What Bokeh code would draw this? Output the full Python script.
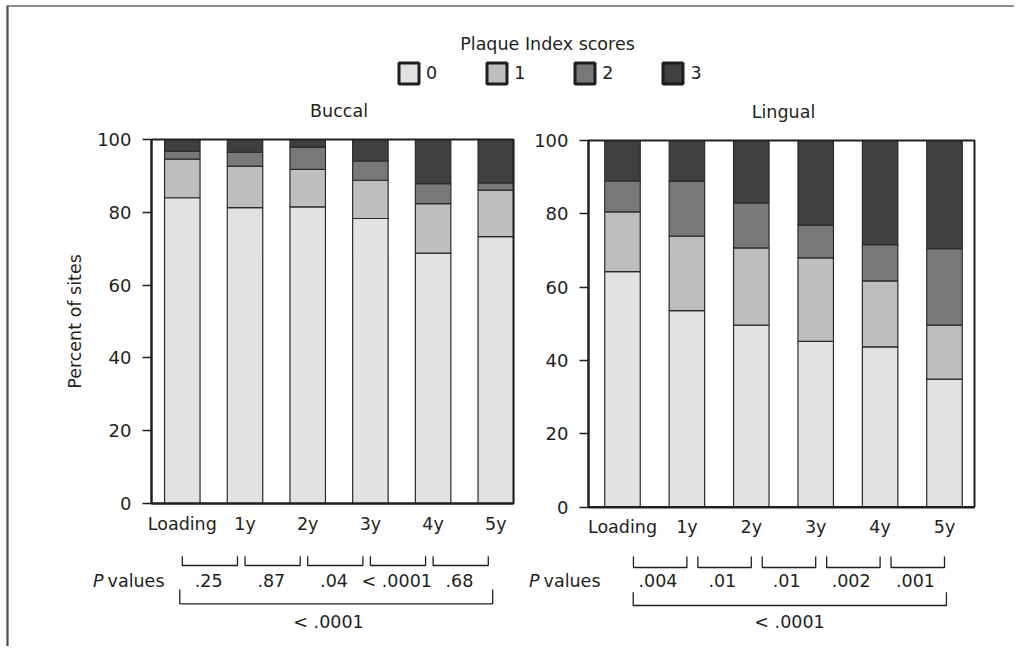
from bokeh.plotting import figure
from bokeh.models import (Range1d, FixedTicker, ColumnDataSource, Legend, LegendItem,
                          LinearAxis)
from bokeh.embed import file_html
from bokeh.resources import INLINE
from bokeh.core.properties import value

# ---------------- data ----------------
periods = ["Loading", "1y", "2y", "3y", "4y", "5y"]
scores = ["0", "1", "2", "3"]

buccal_0 = [84.0, 81.3, 81.5, 78.3, 68.8, 73.3]
buccal_1 = [10.6, 11.4, 10.3, 10.5, 13.6, 12.8]
buccal_2 = [2.2, 3.8, 6.1, 5.3, 5.5, 2.0]
buccal_3 = [3.2, 3.5, 2.1, 5.9, 12.1, 11.9]

lingual_0 = [64.2, 53.6, 49.6, 45.2, 43.7, 34.9]
lingual_1 = [16.3, 20.3, 21.1, 22.8, 18.0, 14.7]
lingual_2 = [8.5, 15.0, 12.3, 8.9, 9.9, 20.9]
lingual_3 = [11.0, 11.1, 17.0, 23.1, 28.4, 29.5]

buccal_p_pairs = [".25", ".87", ".04", "< .0001", ".68"]
buccal_p_overall = "< .0001"
lingual_p_pairs = [".004", ".01", ".01", ".002", ".001"]
lingual_p_overall = "< .0001"

y_ticks = [0, 20, 40, 60, 80, 100]

# ---------------- style / layout ----------------
FONT = "DejaVu Sans"
FS = "17.5px"
TXT = "#231f20"
COLORS = ["#e1e2e4", "#bdbec0", "#77787a", "#3f3f3f"]
EDGE = "#2b2b2b"

OX, OY = 0, 0          # page origin of the canvas
W, H = 1014, 646

# page-pixel anchors of each panel (bar-0 centre, px per category, y=0 / y=100 rows, frame sides)
LP = dict(c0=181.8, dx=62.7, y0=503.0, y100=139.0, left=151.0, right=513.0)
RP = dict(c0=622.0, dx=64.4, y0=506.5, y100=140.0, left=588.0, right=974.0)


def fx(P, px):
    return (px - P["c0"]) / P["dx"]


def fy(P, py):
    return (P["y0"] - py) * 100.0 / (P["y0"] - P["y100"])


p = figure(width=W, height=H,
           x_range=Range1d(fx(LP, OX), fx(LP, OX + W)),
           y_range=Range1d(fy(LP, OY + H), fy(LP, OY)),
           output_backend="svg", toolbar_location=None,
           x_axis_location=None, y_axis_location=None,
           min_border_left=0, min_border_right=0, min_border_top=0, min_border_bottom=0)
p.extra_x_ranges = {"r": Range1d(fx(RP, OX), fx(RP, OX + W))}
p.extra_y_ranges = {"r": Range1d(fy(RP, OY + H), fy(RP, OY))}
p.grid.visible = False
p.outline_line_color = None
p.background_fill_color = "white"
p.border_fill_color = "white"


def text(xs, ys, texts, kw, align="center", italic=False, size=FS):
    p.text(x=xs, y=ys, text=texts, text_align=align, text_baseline="middle",
           text_font=value(FONT), text_font_size=size, text_color=TXT,
           text_font_style="italic" if italic else "normal", **kw)


def panel(P, stacks, pairs, overall, rname, title, ylabel, brk_start, brk_end, ptxt_off,
          big_start, big_end, big_txt_px, pv_right_px, ys_below):
    kw = dict(x_range_name=rname, y_range_name=rname) if rname else {}
    X = lambda px: fx(P, px)
    Yb = lambda d: fy(P, P["y0"] + d)   # d pixels below the zero line
    x0, x1 = X(P["left"]), X(P["right"])
    xs = list(range(len(periods)))

    data = {"x": xs}
    for s, vals in zip(scores, stacks):
        data["s" + s] = vals
    src = ColumnDataSource(data)
    bar_w = 35.5 / P["dx"]
    p.vbar_stack(["s" + s for s in scores], x="x", width=bar_w, fill_color=COLORS,
                 line_color=EDGE, line_width=1.2, source=src, **kw)

    # frame box around the plotting area
    p.quad(left=[x0], right=[x1], bottom=[0], top=[100], fill_color=None,
           line_color=TXT, line_width=2, **kw)

    # axes
    ay = LinearAxis(fixed_location=x0, bounds=(0, 100), ticker=FixedTicker(ticks=y_ticks), **kw)
    ay.major_tick_out = 9
    ay.major_tick_in = 0
    ay.minor_tick_out = 0
    ay.minor_tick_in = 0
    ay.major_tick_line_width = 1.5
    ay.major_tick_line_color = TXT
    ay.axis_line_color = TXT
    ay.axis_line_width = 2
    ay.major_label_standoff = 11
    ay.major_label_text_font = FONT
    ay.major_label_text_font_size = "18px"
    ay.major_label_text_color = TXT
    if ylabel:
        ay.axis_label = ylabel
        ay.axis_label_text_font = FONT
        ay.axis_label_text_font_size = FS
        ay.axis_label_text_font_style = "normal"
        ay.axis_label_text_color = TXT
        ay.axis_label_standoff = 9
    p.add_layout(ay, "left")

    axx = LinearAxis(fixed_location=0, bounds=(x0, x1), ticker=FixedTicker(ticks=xs), **kw)
    axx.major_label_overrides = {i: n for i, n in enumerate(periods)}
    axx.major_tick_out = 0
    axx.major_tick_in = 0
    axx.minor_tick_out = 0
    axx.minor_tick_in = 0
    axx.axis_line_color = TXT
    axx.axis_line_width = 2
    axx.major_label_standoff = 10
    axx.major_label_text_font = FONT
    axx.major_label_text_font_size = FS
    axx.major_label_text_color = TXT
    p.add_layout(axx, "below")

    # panel title
    text([2.5], [fy(P, P["y100"] - 28.5)], [title], kw)

    # P-value brackets
    sb_top, sb_bot, ptxt_y, bb_top, bb_bot, btxt_y = ys_below
    bxs, bys = [], []
    for i in range(len(pairs)):
        a, b = i + brk_start, i + brk_end
        bxs.append([a, a, b, b])
        bys.append([Yb(sb_top), Yb(sb_bot), Yb(sb_bot), Yb(sb_top)])
    bxs.append([big_start, big_start, big_end, big_end])
    bys.append([Yb(bb_top), Yb(bb_bot), Yb(bb_bot), Yb(bb_top)])
    p.multi_line(xs=bxs, ys=bys, line_color=TXT, line_width=1.3, **kw)

    text([i + ptxt_off for i in range(len(pairs))], [Yb(ptxt_y)] * len(pairs), pairs, kw)
    text([X(big_txt_px)], [Yb(btxt_y)], [overall], kw)
    text([X(pv_right_px)], [Yb(ptxt_y)], ["values"], kw, align="right")
    text([X(pv_right_px - 61)], [Yb(ptxt_y)], ["P"], kw, align="right", italic=True)


panel(LP, [buccal_0, buccal_1, buccal_2, buccal_3], buccal_p_pairs, buccal_p_overall,
      None, "Buccal", "Percent of sites", brk_start=0.0, brk_end=0.88, ptxt_off=0.42,
      big_start=-0.04, big_end=4.95, big_txt_px=328, pv_right_px=164,
      ys_below=(52.7, 62.0, 77.0, 86.0, 100.3, 118.7))

panel(RP, [lingual_0, lingual_1, lingual_2, lingual_3], lingual_p_pairs, lingual_p_overall,
      "r", "Lingual", None, brk_start=0.17, brk_end=1.0, ptxt_off=0.55,
      big_start=0.166, big_end=5.03, big_txt_px=789, pv_right_px=600,
      ys_below=(49.5, 60.5, 73.5, 85.2, 98.5, 115.0))

# ---------------- header: title + legend ----------------
text([fx(LP, 547)], [fy(LP, 43)], ["Plaque Index scores"], {})

NAN = float("nan")
items = []
for s, c in zip(scores, COLORS):
    # legend-only swatch renderer (its single point is NaN, so nothing is drawn in the plot)
    r = p.vbar(x=[NAN], top=[NAN], width=1, fill_color=c, line_color="#1e1e1e", line_width=3)
    items.append(LegendItem(label=s, renderers=[r]))
leg = Legend(items=items, orientation="horizontal", location=(396 - OX, OY + H - 86),
             glyph_width=25, glyph_height=26, label_height=26, label_width=11,
             label_standoff=5, spacing=47, padding=0, margin=0,
             border_line_color=None, background_fill_alpha=0,
             label_text_font=FONT, label_text_font_size=FS, label_text_color=TXT)
p.add_layout(leg, "center")

# outer border of the original figure (left and top edges)
bx0, bx1 = fx(LP, 7), fx(LP, OX + W)
p.segment(x0=[bx0], y0=[fy(LP, 5.5)], x1=[bx0], y1=[fy(LP, OY + H)],
          line_color="#4d4d4d", line_width=2.2)
p.segment(x0=[fx(LP, 6)], y0=[fy(LP, 5.5)], x1=[bx1], y1=[fy(LP, 5.5)],
          line_color="#666666", line_width=1.5)

open("out.html", "w").write(file_html(p, INLINE))
